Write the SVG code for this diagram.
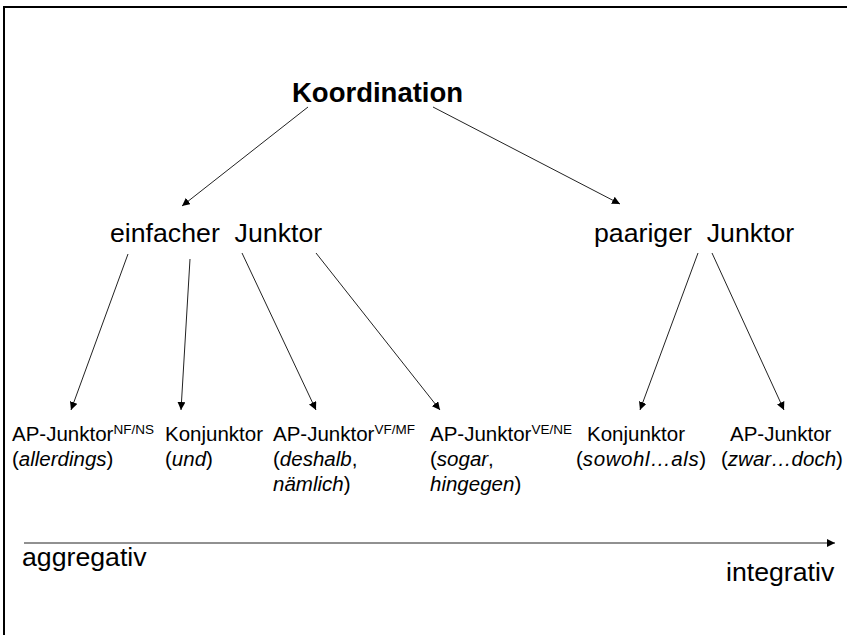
<svg xmlns="http://www.w3.org/2000/svg" width="847" height="635" viewBox="0 0 847 635">
<defs>
<marker id="ah" viewBox="0 0 10 10" refX="10" refY="5" markerWidth="8" markerHeight="8" markerUnits="userSpaceOnUse" orient="auto">
<path d="M0,0 L10,5 L0,10 z" fill="#000"/>
</marker>
<style>
text{font-family:"Liberation Sans",Arial,sans-serif;fill:#000;white-space:pre}
.t{font-size:27.5px;font-weight:bold}
.m{font-size:26.7px}
.l{font-size:20.5px}
.s{font-size:13.5px}
.c line{stroke:#222;stroke-width:1;marker-end:url(#ah)}
</style>
</defs>
<rect width="847" height="635" fill="#fff"/>
<path d="M4,640 V7 H850" fill="none" stroke="#000" stroke-width="2"/>
<g class="c">
<line x1="308" y1="107" x2="182" y2="206"/>
<line x1="433" y1="107" x2="620" y2="204"/>
<line x1="128" y1="254" x2="71" y2="410"/>
<line x1="190" y1="259" x2="181" y2="410"/>
<line x1="242" y1="253" x2="316" y2="410"/>
<line x1="316" y1="253" x2="440" y2="410"/>
<line x1="698" y1="253" x2="640" y2="410"/>
<line x1="712" y1="253" x2="784" y2="410"/>
<line x1="24" y1="543" x2="835" y2="543"/>
</g>
<g id="koordination"><text class="t" x="292" y="102">Koordination</text></g>
<g id="einfacher"><text class="m" x="110" y="242">einfacher  Junktor</text></g>
<g id="paariger"><text class="m" x="594" y="242">paariger  Junktor</text></g>
<g id="ap-nfns"><text class="l" x="12" y="441">AP-Junktor<tspan class="s" dy="-7">NF/NS</tspan></text><text class="l" x="12" y="466">(<tspan font-style="italic">allerdings</tspan>)</text></g>
<g id="konj-und"><text class="l" x="165" y="441">Konjunktor</text><text class="l" x="165" y="466">(<tspan font-style="italic">und</tspan>)</text></g>
<g id="ap-vfmf"><text class="l" x="273" y="441">AP-Junktor<tspan class="s" dy="-7">VF/MF</tspan></text><text class="l" x="273" y="466">(<tspan font-style="italic">deshalb</tspan>,</text><text class="l" x="273" y="491"><tspan font-style="italic">nämlich</tspan>)</text></g>
<g id="ap-vene"><text class="l" x="430" y="441">AP-Junktor<tspan class="s" dy="-7">VE/NE</tspan></text><text class="l" x="430" y="466">(<tspan font-style="italic">sogar</tspan>,</text><text class="l" x="430" y="491"><tspan font-style="italic">hingegen</tspan>)</text></g>
<g id="konj-sowohl"><text class="l" x="576" y="441"><tspan x="587">Konjunktor</tspan></text><text class="l" x="576" y="466">(<tspan font-style="italic" letter-spacing="0.6">sowohl…als</tspan>)</text></g>
<g id="ap-zwar"><text class="l" x="730" y="441">AP-Junktor</text><text class="l" x="721" y="466">(<tspan font-style="italic">zwar…doch</tspan>)</text></g>
<g id="aggregativ"><text class="m" x="22" y="566">aggregativ</text></g>
<g id="integrativ"><text class="m" x="726" y="581">integrativ</text></g>
</svg>
